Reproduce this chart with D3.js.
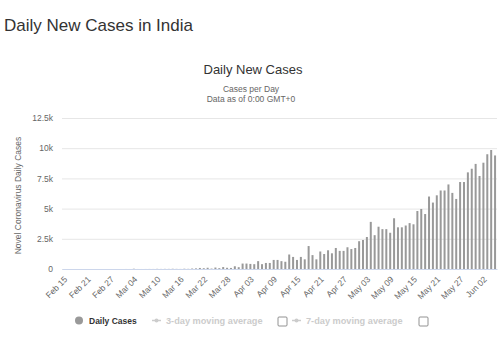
<!DOCTYPE html>
<html>
<head>
<meta charset="utf-8">
<script src="https://cdn.jsdelivr.net/npm/d3@7"></script>
<style>
  body { margin: 0; background: #fff; }
  svg { display: block; font-family: "Lucida Grande", "Lucida Sans Unicode", Arial, "Liberation Sans", sans-serif; }
</style>
</head>
<body>
<svg id="chart" width="500" height="350"></svg>
<script>
// first day of the series, one bar per day
const startDay = new Date(2020, 1, 15);
const tickLabels = ["Feb 15", "Feb 21", "Feb 27", "Mar 04", "Mar 10", "Mar 16", "Mar 22", "Mar 28",
  "Apr 03", "Apr 09", "Apr 15", "Apr 21", "Apr 27", "May 03", "May 09", "May 15", "May 21", "May 27", "Jun 02"];

// daily new cases, Feb 15 .. Jun 05
const febCases = [0, 0, 0, 0, 0, 0, 0, 0, 0, 0, 0, 0, 0, 0, 0];
const marCases = [0, 2, 1, 22, 2, 1, 3, 5, 4, 13, 6, 11, 10, 20, 11, 6, 23, 14, 38, 50, 86, 66, 103, 37, 121, 70, 160, 100, 87, 227, 150];
const aprCases = [450, 450, 420, 400, 650, 400, 500, 500, 750, 750, 650, 600, 1200, 1000, 750, 1000, 800, 1900, 1150, 800,
  1450, 1240, 1550, 1300, 1740, 1500, 1500, 1800, 1650, 1740];
const mayCases = [2300, 2400, 2650, 3900, 2800, 3500, 3300, 3300, 3000, 4200, 3450, 3450, 3600, 3800, 3700, 4800, 4970, 4550,
  6000, 5500, 6100, 6500, 6500, 7000, 6300, 5800, 7200, 7200, 8000, 8300, 8700];
const junCases = [7700, 8800, 9500, 9850, 9400];

const yTicks = [0, 2500, 5000, 7500, 10000, 12500];
const legendItems = ["Daily Cases", "3-day moving average", "7-day moving average"];

const cases = [].concat(febCases, marCases, aprCases, mayCases, junCases);
const fmtDay = d3.timeFormat("%b %d");
const days = cases.map((v, i) => d3.timeDay.offset(startDay, i));
const data = days.map((d, i) => ({ label: fmtDay(d), value: cases[i] }));

const svg = d3.select("#chart");

svg.append("text")
  .attr("x", 4).attr("y", 31)
  .attr("font-family", "Arial, 'Liberation Sans', sans-serif")
  .attr("font-size", 17)
  .attr("fill", "#333")
  .text("Daily New Cases in India");

const plot = { left: 62, right: 497, top: 118, bottom: 269 };

const x = d3.scaleBand()
  .domain(data.map(d => d.label))
  .range([plot.left, plot.right]);

const y = d3.scaleLinear()
  .domain([0, 12500])
  .range([plot.bottom, plot.top]);

// titles
svg.append("text")
  .attr("x", 253).attr("y", 74)
  .attr("text-anchor", "middle")
  .attr("font-size", 13)
  .attr("fill", "#333")
  .text("Daily New Cases");

svg.append("text")
  .attr("x", 251).attr("y", 92)
  .attr("text-anchor", "middle")
  .attr("font-size", 8.5)
  .attr("fill", "#666")
  .text("Cases per Day");

svg.append("text")
  .attr("x", 251).attr("y", 102)
  .attr("text-anchor", "middle")
  .attr("font-size", 8.5)
  .attr("fill", "#666")
  .text("Data as of 0:00 GMT+0");

// y axis: gridlines + labels
const yAxis = d3.axisLeft(y)
  .tickValues(yTicks)
  .tickSize(-(plot.right - plot.left))
  .tickPadding(9)
  .tickFormat(d => d === 0 ? "0" : d3.format("~")(d / 1000) + "k");

const gy = svg.append("g")
  .attr("transform", `translate(${plot.left},0)`)
  .call(yAxis);
gy.select(".domain").remove();
gy.selectAll(".tick line").attr("stroke", "#e6e6e6");
gy.selectAll(".tick text")
  .attr("font-size", 8.5)
  .attr("font-family", "Arial, 'Liberation Sans', sans-serif")
  .attr("fill", "#666");

svg.append("text")
  .attr("transform", `translate(21,${(plot.top + plot.bottom) / 2 + 2}) rotate(-90)`)
  .attr("text-anchor", "middle")
  .attr("font-size", 8.5)
  .attr("font-family", "Arial, 'Liberation Sans', sans-serif")
  .attr("fill", "#666")
  .text("Novel Coronavirus Daily Cases");

// bars
const barW = 2;
svg.append("g")
  .selectAll("rect")
  .data(data)
  .join("rect")
  .attr("x", d => x(d.label) + x.bandwidth() / 2 - barW / 2)
  .attr("y", d => y(d.value))
  .attr("width", barW)
  .attr("height", d => y(0) - y(d.value))
  .attr("fill", "#999");

// x axis
const xAxis = d3.axisBottom(x)
  .tickValues(tickLabels)
  .tickSize(0)
  .tickPadding(0);

const gx = svg.append("g")
  .attr("transform", `translate(0,${plot.bottom})`)
  .call(xAxis);
gx.select(".domain").attr("stroke", "#ccd6eb");
gx.selectAll(".tick text")
  .attr("font-size", 8.5)
  .attr("font-family", "Arial, 'Liberation Sans', sans-serif")
  .attr("fill", "#666")
  .attr("text-anchor", "end")
  .attr("dy", null)
  .attr("y", 0)
  .attr("transform", "translate(4,11) rotate(-45)");

// legend
const lg = svg.append("g").attr("font-family", "Arial, 'Liberation Sans', sans-serif");
lg.append("circle").attr("cx", 79).attr("cy", 320.5).attr("r", 4).attr("fill", "#999");
lg.append("text").attr("x", 89).attr("y", 324).attr("font-size", 8.5)
  .attr("font-weight", "bold").attr("fill", "#333").text(legendItems[0]);

const hidden = [{ sx: 152, tx: 166, bx: 278 }, { sx: 292, tx: 306, bx: 419 }];
hidden.forEach((h, i) => {
  lg.append("line").attr("x1", h.sx).attr("x2", h.sx + 9).attr("y1", 320.5).attr("y2", 320.5)
    .attr("stroke", "#ccc").attr("stroke-width", 1.5);
  lg.append("circle").attr("cx", h.sx + 4.5).attr("cy", 320.5).attr("r", 2).attr("fill", "#ccc");
  lg.append("text").attr("x", h.tx).attr("y", 324).attr("font-size", 9.2)
    .attr("font-weight", "bold").attr("fill", "#ccc").text(legendItems[i + 1]);
  lg.append("rect").attr("x", h.bx).attr("y", 317).attr("width", 9).attr("height", 9).attr("rx", 1)
    .attr("fill", "#fff").attr("stroke", "#767676").attr("stroke-width", 0.8);
});
</script>
</body>
</html>
